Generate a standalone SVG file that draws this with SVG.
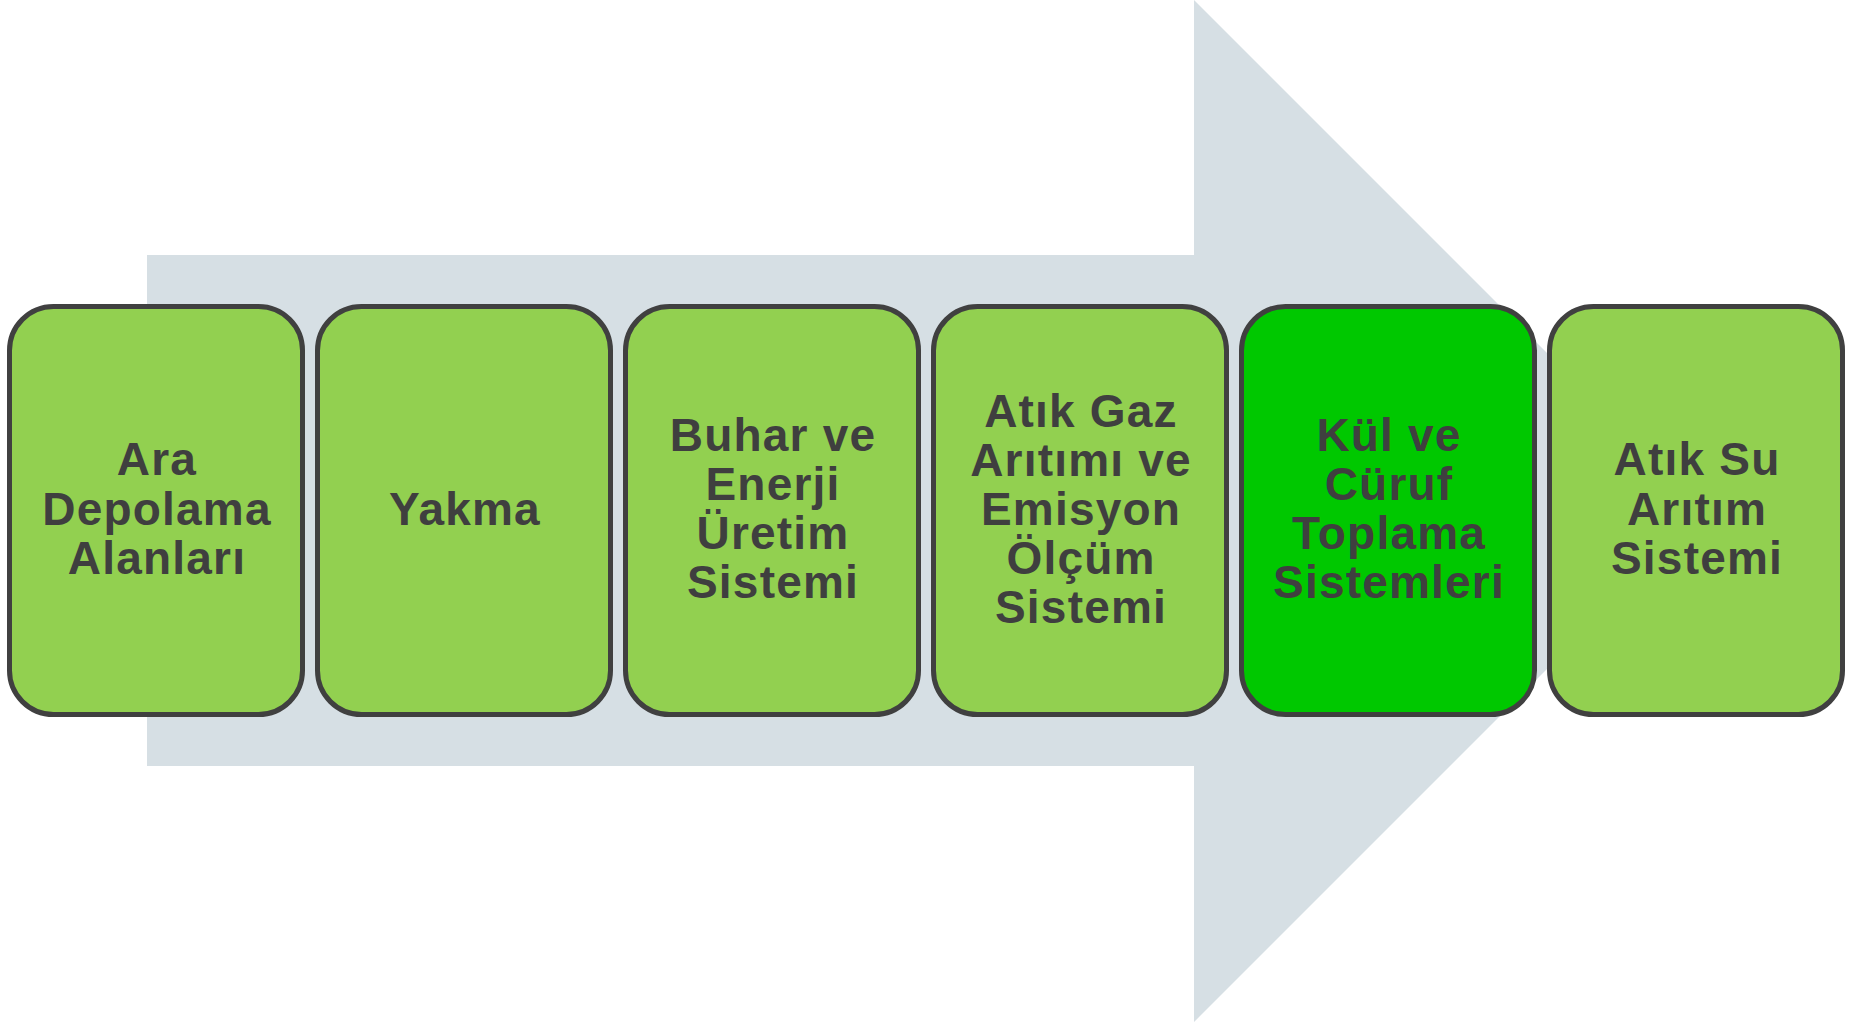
<svg xmlns="http://www.w3.org/2000/svg" width="1849" height="1022" viewBox="0 0 1849 1022">
  <style>
    .step { fill: #92d050; stroke: #404040; stroke-width: 5; }
    .step.active { fill: #00c800; }
    .label { font-family: "Liberation Sans", Arial, sans-serif; font-weight: bold; font-size: 46px; letter-spacing: 1.2px; fill: #3f3f3f; text-anchor: middle; }
  </style>
  <rect x="0" y="0" width="1849" height="1022" fill="#ffffff"/>

  <!-- background process arrow -->
  <g id="connectors">
    <polygon points="147,255 1194,255 1194,0 1705,511 1194,1022 1194,766 147,766" fill="#d6dfe4"/>
  </g>

  <g id="node-ara-depolama">
    <rect class="step" x="9.5" y="306.5" width="293" height="408" rx="44"/>
    <text class="label" x="157" y="475">Ara</text>
    <text class="label" x="157" y="525">Depolama</text>
    <text class="label" x="157" y="574">Alanları</text>
  </g>

  <g id="node-yakma">
    <rect class="step" x="317.5" y="306.5" width="293" height="408" rx="44"/>
    <text class="label" x="465" y="525">Yakma</text>
  </g>

  <g id="node-buhar-enerji">
    <rect class="step" x="625.5" y="306.5" width="293" height="408" rx="44"/>
    <text class="label" x="773" y="451">Buhar ve</text>
    <text class="label" x="773" y="500">Enerji</text>
    <text class="label" x="773" y="549">Üretim</text>
    <text class="label" x="773" y="598">Sistemi</text>
  </g>

  <g id="node-atik-gaz">
    <rect class="step" x="933.5" y="306.5" width="293" height="408" rx="44"/>
    <text class="label" x="1081" y="427">Atık Gaz</text>
    <text class="label" x="1081" y="476">Arıtımı ve</text>
    <text class="label" x="1081" y="525">Emisyon</text>
    <text class="label" x="1081" y="574">Ölçüm</text>
    <text class="label" x="1081" y="623">Sistemi</text>
  </g>

  <g id="node-kul-curuf">
    <rect class="step active" x="1241.5" y="306.5" width="293" height="408" rx="44"/>
    <text class="label" x="1389" y="451">Kül ve</text>
    <text class="label" x="1389" y="500">Cüruf</text>
    <text class="label" x="1389" y="549">Toplama</text>
    <text class="label" x="1389" y="598">Sistemleri</text>
  </g>

  <g id="node-atik-su">
    <rect class="step" x="1549.5" y="306.5" width="293" height="408" rx="44"/>
    <text class="label" x="1697" y="475">Atık Su</text>
    <text class="label" x="1697" y="525">Arıtım</text>
    <text class="label" x="1697" y="574">Sistemi</text>
  </g>
</svg>
